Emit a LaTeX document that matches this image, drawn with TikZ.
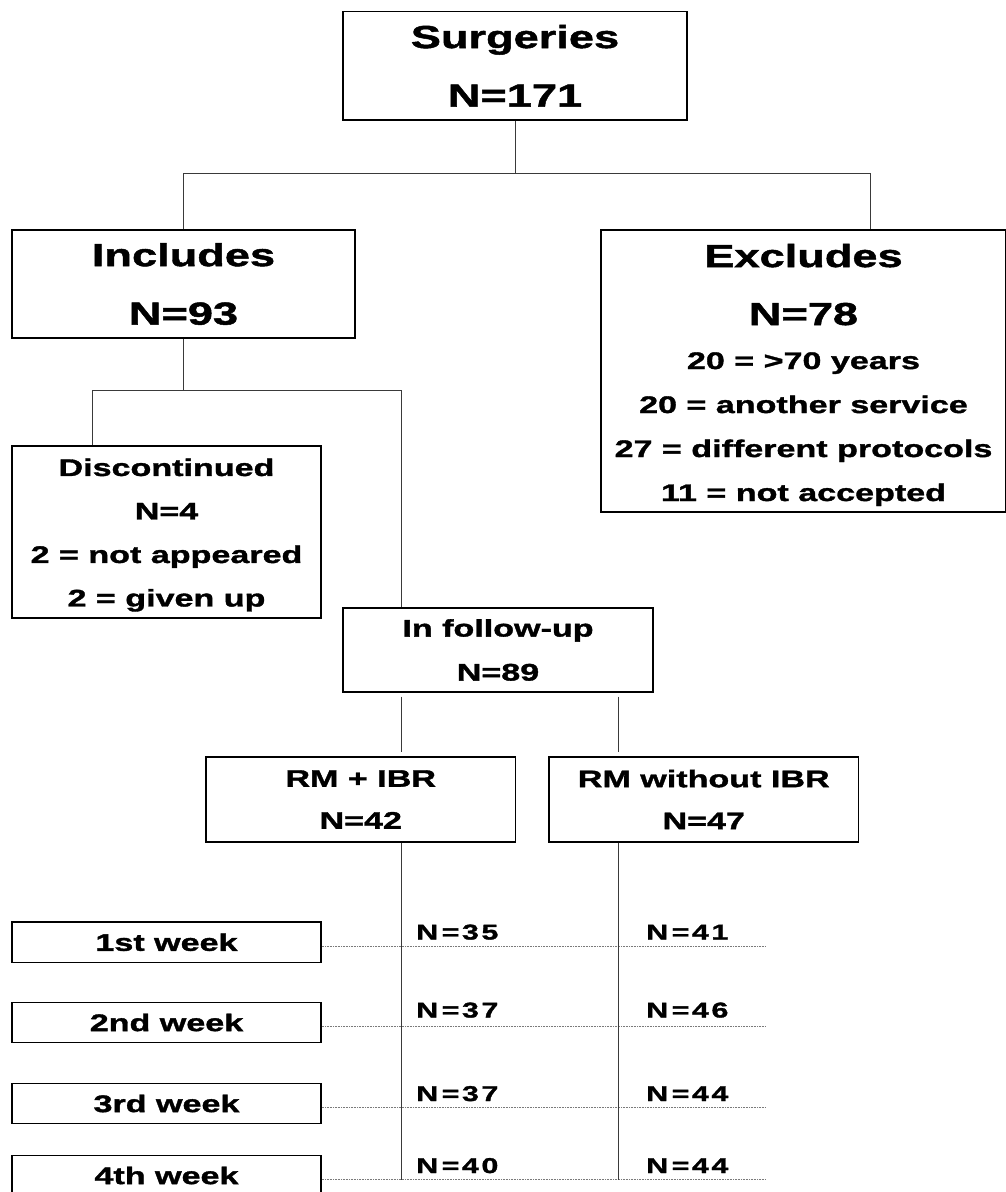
\documentclass[tikz,border=0pt]{standalone}
\usepackage{fontspec}
\setmainfont{Liberation Sans}[FakeStretch=1.42,FakeBold=1.5]
\newfontfamily\nfont{Liberation Sans}[FakeStretch=1.42,FakeBold=1.5,LetterSpace=12]
\usepackage{tikz}
\usetikzlibrary{positioning,calc}
\definecolor{Line}{HTML}{3A3A3A}
\definecolor{Dots}{HTML}{7A7A7A}
\tikzset{
 box/.style={draw=black,line width=1.4pt,inner sep=0pt,align=center,
   font=\bfseries\fontsize{24}{44}\selectfont},
 bigbox/.style={box,font=\bfseries\fontsize{31.8}{58.5}\selectfont},
 weekbox/.style={box,minimum width=309pt,minimum height=40.5pt},
 link/.style={draw=Line,line width=1pt},
 dots/.style={draw=Dots,line width=0.8pt,dash pattern=on 0.8pt off 0.8pt},
 nlab/.style={anchor=base west,inner sep=0pt,font=\nfont\bfseries\fontsize{21.4}{24}\selectfont}
}
\begin{document}
\begin{tikzpicture}[x=1pt,y=-1pt]
\path[fill=white,use as bounding box] (0,0) rectangle (1005,1192);
\node[bigbox,minimum width=344pt,minimum height=108.5pt] (srg) at (515,65.75) {Surgeries\\N=171};
\node[bigbox,minimum width=343pt,minimum height=108pt] (inc) at (183.5,284) {Includes\\N=93};
\node[box,minimum width=405pt,minimum height=282pt] (exc) at (803.5,371) {{\fontsize{31.8}{58.5}\selectfont\rule{0pt}{31pt}Excludes}\\[14pt]{\fontsize{31.8}{58.5}\selectfont N=78}\\20 = >70 years\\20 = another service\\27 = different protocols\\11 = not accepted};
\node[box,minimum width=309pt,minimum height=172pt,font=\bfseries\fontsize{24}{43.5}\selectfont] (dis) at (166.5,532) {\rule{0pt}{23.5pt}Discontinued\\N=4\\2 = not appeared\\2 = given up};
\node[box,minimum width=310pt,minimum height=84pt] (fup) at (498,650) {In follow-up\\N=89};
\node[box,minimum width=309.5pt,minimum height=85pt,font=\bfseries\fontsize{24}{42}\selectfont] (ibr) at (360.75,799.5) {RM + IBR\\N=42};
\node[box,minimum width=309.5pt,minimum height=85pt,font=\bfseries\fontsize{24}{42}\selectfont] (nob) at (703.75,799.5) {RM without IBR\\N=47};
\node[weekbox] (w1) at (166.5,942.25) {1st week};
\node[weekbox] (w2) at (166.5,1022.5) {2nd week};
\node[weekbox] (w3) at (166.5,1103.5) {3rd week};
\node[weekbox] (w4) at (166.5,1175.5) {4th week};
\coordinate (j1) at (515,173); \coordinate (j2) at (870,173);
\coordinate (j3) at (92,390); \coordinate (c1) at (401,390); \coordinate (c2) at (618,700);
\coordinate (d1) at (765,946); \coordinate (d2) at (765,1026);
\coordinate (d3) at (765,1107); \coordinate (d4) at (765,1179.5);
\draw[link] (srg.south)--(j1);
\draw[link] (inc.north) |- (j2) -- (j2 |- exc.north);
\draw[link] (inc.south)--(inc.south |- j3);
\draw[link] (j3 |- dis.north) |- (c1) -- (c1 |- fup.north);
\draw[link,shorten <=4pt,shorten >=4pt] (c1 |- fup.south)--(c1 |- ibr.north);
\draw[link,shorten <=4pt,shorten >=4pt] (c2 |- fup.south)--(c2 |- nob.north);
\draw[dots] (w1.east |- d1)--(d1);\draw[dots] (w2.east |- d2)--(d2);
\draw[dots] (w3.east |- d3)--(d3);\draw[dots] (w4.east |- d4)--(d4);
\draw[link] (c1 |- ibr.south)--(c1 |- d4);\draw[link] (c2 |- nob.south)--(c2 |- d4);
\node[nlab] (a1) at (416,939.5) {N\,=35};
\node[nlab] (a2) at (416,1017.5) {N\,=37};
\node[nlab] (a3) at (416,1101) {N\,=37};
\node[nlab] (a4) at (416,1173) {N\,=40};
\node[nlab] (b1) at (646,939.5) {N\,=41};
\node[nlab] (b2) at (646,1017.5) {N\,=46};
\node[nlab] (b3) at (646,1101) {N\,=44};
\node[nlab] (b4) at (646,1173) {N\,=44};
\end{tikzpicture}
\end{document}
